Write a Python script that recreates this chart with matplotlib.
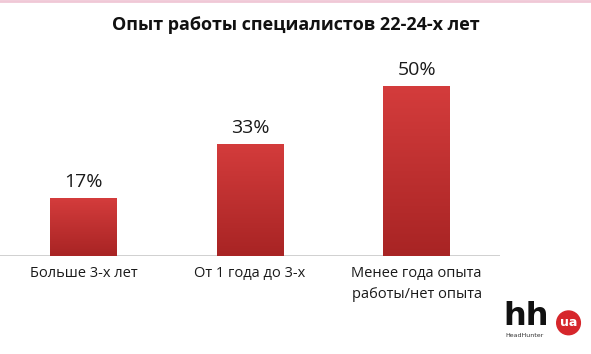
import numpy as np
import matplotlib.pyplot as plt
from matplotlib.patches import Ellipse
from matplotlib.colors import LinearSegmentedColormap

categories = ["Больше 3-х лет", "От 1 года до 3-х", "Менее года опыта\nработы/нет опыта"]
values = [17, 33, 50]
title = "Опыт работы специалистов 22-24-х лет"

plt.rcParams['font.family'] = ['Open Sans', 'DejaVu Sans']

fig = plt.figure(figsize=(5.91, 3.54), dpi=100)
ax = fig.add_axes([0.0, 0.277, 0.846, 0.576])

x = np.arange(len(categories))
bars = ax.bar(x, values, width=0.4, color='#c83232', zorder=2)

# vertical gradient inside each bar
grad = np.linspace(0, 1, 256).reshape(-1, 1)
cmap = LinearSegmentedColormap.from_list('bar', ['#a82424', '#d43c3c'])
for b, v in zip(bars, values):
    x0, w, h = b.get_x(), b.get_width(), b.get_height()
    im = ax.imshow(grad, extent=[x0, x0 + w, 0, h], origin='lower', aspect='auto',
                   cmap=cmap, zorder=3)
    im.set_clip_path(b)
    ax.text(x0 + w / 2, h + 2.0, f"{v}%", ha='center', va='bottom',
            fontsize=14, color='#1a1a1a')

ax.set_xlim(-0.5, 2.5)
ax.set_ylim(0, 60)
ax.axhline(0, color='#c8c8c8', lw=1.2, zorder=1)
for s in ax.spines.values():
    s.set_visible(False)
ax.set_xticks(x)
ax.set_xticklabels(categories, fontsize=10.5, color='#1a1a1a', linespacing=1.6, va='top')
ax.tick_params(axis='x', length=0, pad=7)
ax.set_yticks([])

fig.text(0.5, 0.93, title, ha='center', va='center', fontsize=13, fontweight='bold', color='#111111')

# top border
fig.add_artist(plt.Line2D([0, 1], [0.997, 0.997], color='#f0c8d6', lw=2))

# logo
fig.text(0.852, 0.082, "hh", ha='left', va='baseline', fontsize=23, fontweight='bold',
         color='#111111', family=['DejaVu Sans'])
fig.add_artist(Ellipse((0.962, 0.088), 0.040, 0.067, transform=fig.transFigure,
                       color='#d6262b'))
fig.text(0.962, 0.090, "ua", ha='center', va='center', fontsize=9, fontweight='bold',
         color='white', family=['DejaVu Sans'])
fig.text(0.855, 0.052, "HeadHunter", ha='left', va='center', fontsize=4.5, color='#333333',
         family=['DejaVu Sans'])

fig.savefig('out.png', dpi=100)
